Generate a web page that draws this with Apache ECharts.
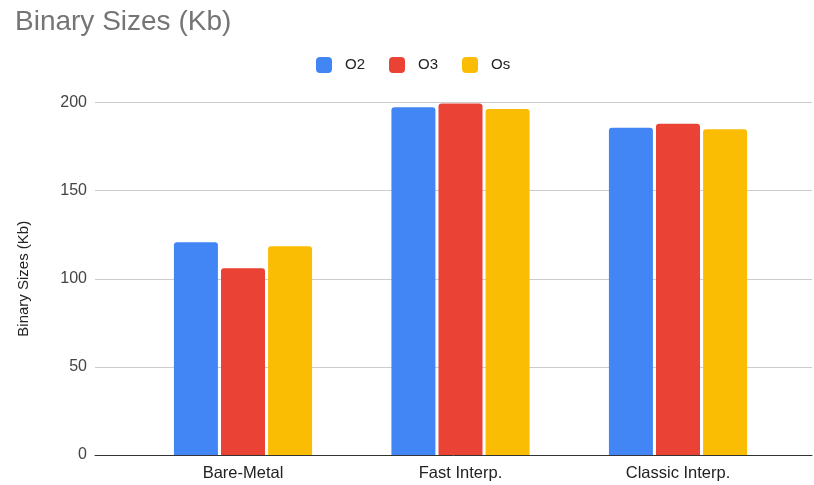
<!DOCTYPE html>
<html>
<head>
<meta charset="utf-8">
<script src="https://cdn.jsdelivr.net/npm/echarts@6/dist/echarts.min.js"></script>
<style>
  html, body { margin: 0; padding: 0; background: #fff; }
  #chart { width: 814px; height: 485px; }
</style>
</head>
<body>
<div id="chart"></div>
<script>
// Binary sizes per build variant and optimisation level
const categories = ['Bare-Metal', 'Fast Interp.', 'Classic Interp.'];
const seriesNames = ['O2', 'O3', 'Os'];
const sizeO2 = [120.7, 197.3, 185.7];
const sizeO3 = [105.9, 199.5, 188.0];
const sizeOs = [118.4, 196.3, 184.8];
const colors = ['#4285F4', '#EA4335', '#FBBC04'];

const seriesData = [sizeO2, sizeO3, sizeOs];

const chart = echarts.init(document.getElementById('chart'), null, { renderer: 'canvas' });

const font = '"Liberation Sans", Arial, sans-serif';

chart.setOption({
  animation: false,
  color: colors,
  title: {
    text: 'Binary Sizes (Kb)',
    left: 10,
    top: 3,
    textStyle: { fontFamily: font, fontSize: 28, fontWeight: 'normal', color: '#757575' }
  },
  legend: {
    top: 57,
    left: 316,
    padding: 0,
    itemWidth: 16,
    itemHeight: 16,
    itemGap: 24,
    icon: 'roundRect',
    textStyle: { fontFamily: font, fontSize: 15, color: '#222', padding: [0, 0, 0, 8] },
    data: seriesNames
  },
  grid: [
    // wide grid: gridlines, value labels and the baseline
    { left: 95, right: 2, top: 102.5, bottom: 30 },
    // inner grid: the bars and category labels
    { left: 134.25, right: 27.25, top: 102.5, bottom: 30 }
  ],
  xAxis: [
    {
      gridIndex: 0,
      type: 'category',
      data: [''],
      axisLine: { show: true, lineStyle: { color: '#333', width: 1 } },
      axisTick: { show: false },
      axisLabel: { show: false }
    },
    {
      gridIndex: 1,
      type: 'category',
      data: categories,
      axisLine: { show: false },
      axisTick: { show: false },
      axisLabel: { fontFamily: font, fontSize: 16.5, color: '#222', margin: 10 }
    }
  ],
  yAxis: [
    {
      gridIndex: 0,
      type: 'value',
      min: 0,
      max: 200,
      interval: 50,
      name: 'Binary Sizes (Kb)',
      nameLocation: 'middle',
      nameGap: 64,
      nameTextStyle: { fontFamily: font, fontSize: 15, color: '#222' },
      axisLine: { show: false },
      axisTick: { show: false },
      axisLabel: { fontFamily: font, fontSize: 16, color: '#444', margin: 8 },
      splitLine: { lineStyle: { color: '#cccccc', width: 1 } }
    },
    {
      gridIndex: 1,
      type: 'value',
      min: 0,
      max: 200,
      interval: 50,
      show: false,
      splitLine: { show: false }
    }
  ],
  series: seriesNames.map((name, i) => ({
    name: name,
    type: 'bar',
    xAxisIndex: 1,
    yAxisIndex: 1,
    data: seriesData[i],
    barWidth: 44,
    barGap: '7%',
    itemStyle: { color: colors[i], borderRadius: [3, 3, 0, 0] }
  }))
});
</script>
</body>
</html>
